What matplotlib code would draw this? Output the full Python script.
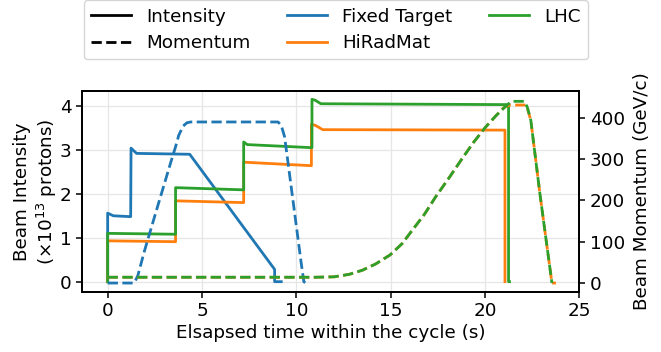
import matplotlib
matplotlib.use("Agg")
import matplotlib.pyplot as plt
from matplotlib.lines import Line2D

# ---- data ----
ft_int_t = [0, 0, 0.3, 1.22, 1.24, 1.53, 4.35, 8.85, 8.85, 9.2]
ft_int = [0, 1.56, 1.50, 1.48, 3.04, 2.92, 2.90, 0.28, 0, 0]

hrm_int_t = [0, 0, 3.6, 3.6, 7.21, 7.21, 10.8, 10.8, 11.0, 11.4, 21.06, 21.06]
hrm_int = [0, 0.93, 0.91, 1.84, 1.80, 2.72, 2.64, 3.58, 3.56, 3.46, 3.45, 0]

lhc_int_t = [0, 0, 3.6, 3.6, 7.21, 7.21, 7.4, 10.83, 10.83, 11.0, 11.3, 21.25, 21.25, 21.3]
lhc_int = [0, 1.10, 1.08, 2.14, 2.09, 3.18, 3.12, 3.05, 4.15, 4.13, 4.05, 4.03, 0, 0]

ft_mom_t = [0, 1.41, 1.6, 1.94, 2.56, 3.35, 3.6, 3.77, 4.0, 4.2, 4.4, 9.03, 9.2, 9.38, 9.82, 10.26, 10.4, 10.53]
ft_mom = [0, 0, 18, 76, 172, 293, 330, 358, 380, 388, 390, 390, 382, 354, 201, 48, 3, 0]

lhc_mom_t = [0, 11.0, 12.0, 12.8, 13.5, 14.2, 14.97, 15.6, 16.15, 16.8, 17.39, 18.1, 18.8, 19.4, 20.04, 20.6, 21.1, 21.4, 22.1, 22.25, 22.43, 22.91, 23.23, 23.55]
lhc_mom = [14, 14, 15, 21, 31, 46, 68, 95, 128, 167, 209, 255, 302, 341, 378, 406, 428, 440, 440, 425, 394, 217, 108, 0]

hrm_mom_t = [0, 11.0, 12.0, 12.8, 13.5, 14.2, 14.97, 15.6, 16.15, 16.8, 17.39, 18.1, 18.8, 19.4, 20.04, 20.6, 21.0, 21.3, 22.2, 22.43, 22.91, 23.23, 23.55, 23.76]
hrm_mom = [14, 14, 15, 21, 31, 46, 68, 95, 128, 167, 209, 255, 302, 341, 378, 406, 425, 431, 431, 394, 217, 108, 0, 0]

x_ticks = [0, 5, 10, 15, 20, 25]
yl_ticks = [0, 1, 2, 3, 4]
yr_ticks = [0, 100, 200, 300, 400]

C_FT = "#1f77b4"
C_HRM = "#ff7f0e"
C_LHC = "#2ca02c"

FS = 13.2
LW = 2.0
plt.rcParams["font.family"] = "DejaVu Sans"
plt.rcParams["font.size"] = FS

fig = plt.figure(figsize=(6.61, 3.52), dpi=100)
ax = fig.add_axes([82 / 661, 1 - 291.7 / 352, (579.3 - 82) / 661, (291.7 - 91) / 352])
ax2 = ax.twinx()

ax.plot(ft_int_t, ft_int, color=C_FT, lw=LW)
ax.plot(hrm_int_t, hrm_int, color=C_HRM, lw=LW)
ax.plot(lhc_int_t, lhc_int, color=C_LHC, lw=LW)

ax2.plot(ft_mom_t, ft_mom, color=C_FT, lw=LW, ls="--")
ax2.plot(hrm_mom_t, hrm_mom, color=C_HRM, lw=LW, ls="--")
ax2.plot(lhc_mom_t, lhc_mom, color=C_LHC, lw=LW, ls="--")

ax.set_xlim(-1.36, 25)
ax.set_ylim(-0.228, 4.34)
ax2.set_ylim(-21, 465)
ax.set_xticks(x_ticks)
ax.set_yticks(yl_ticks)
ax2.set_yticks(yr_ticks)
ax.grid(True, color="#e6e6e6", lw=0.9)
ax.set_axisbelow(True)
for a in (ax, ax2):
    a.tick_params(labelsize=FS, width=1.1, length=4)
    for s in a.spines.values():
        s.set_linewidth(1.3)

ax.set_xlabel("Elsapsed time within the cycle (s)", fontsize=FS, labelpad=3)
ax.set_ylabel("Beam Intensity\n(×10$^{13}$ protons)", fontsize=FS, labelpad=0.5)
ax2.set_ylabel("Beam Momentum (GeV/c)", fontsize=FS, labelpad=6)

handles = [
    Line2D([], [], color="black", lw=LW, ls="-"),
    Line2D([], [], color="black", lw=LW, ls="--"),
    Line2D([], [], color=C_FT, lw=LW),
    Line2D([], [], color=C_HRM, lw=LW),
    Line2D([], [], color=C_LHC, lw=LW),
]
labels = ["Intensity", "Momentum", "Fixed Target", "HiRadMat", "LHC"]
fig.legend(handles, labels, ncol=3, loc="lower center",
           bbox_to_anchor=(335.7 / 661, 1 - 59.3 / 352),
           borderaxespad=0.0,
           fontsize=FS, handlelength=2.2, labelspacing=0.45,
           columnspacing=2.0, framealpha=0.8)

fig.savefig("out.png", dpi=100)
